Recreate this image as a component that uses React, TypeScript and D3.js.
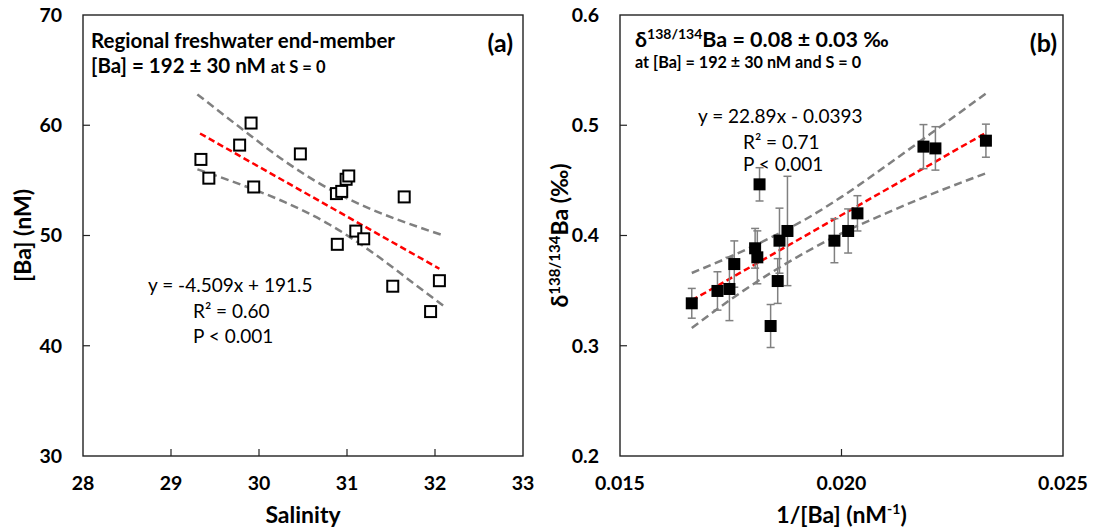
import React from 'react';
import * as d3 from 'd3';

// panel (a): salinity vs [Ba]
const salinity = [29.34, 29.43, 29.78, 29.91, 29.94, 30.47, 30.88, 30.94, 30.99, 31.02, 30.89, 31.1, 31.19, 31.65, 31.52, 32.05, 31.95];
const baConc = [56.9, 55.2, 58.2, 60.2, 54.4, 57.4, 53.8, 54.0, 55.1, 55.4, 49.2, 50.4, 49.7, 53.5, 45.4, 45.9, 43.1];
const fitA = { slope: -4.509, intercept: 191.5, from: 29.33, to: 32.05 };
const bandAX = [29.3, 29.8, 30.3, 30.8, 31.3, 31.8, 32.1];
const bandAUpper = [62.8, 59.7, 56.7, 54.2, 52.3, 50.8, 50.0];
const bandALower = [56.0, 54.6, 53.0, 51.0, 48.4, 45.4, 43.6];

// panel (b): 1/[Ba] vs d138/134Ba
const invBa = [0.01662, 0.0172, 0.01747, 0.01758, 0.01805, 0.0181, 0.01815, 0.0184, 0.01856, 0.0186, 0.01878, 0.01984, 0.02015, 0.02036, 0.02185, 0.02212, 0.02326];
const delta = [0.3385, 0.3497, 0.3515, 0.3741, 0.3884, 0.3802, 0.4464, 0.3179, 0.3587, 0.3953, 0.4041, 0.3953, 0.4041, 0.4201, 0.4806, 0.479, 0.486];
const deltaErr = [0.0135, 0.0174, 0.0287, 0.021, 0.018, 0.024, 0.0151, 0.0195, 0.0203, 0.0295, 0.0496, 0.02, 0.02, 0.016, 0.02, 0.0197, 0.015];
const fitB = { slope: 22.89, intercept: -0.0393, from: 0.01662, to: 0.02326 };
const bandBX = [0.01662, 0.0175, 0.0184, 0.0192, 0.02, 0.021, 0.022, 0.0233];
const bandBUpper = [0.366, 0.381, 0.398, 0.415, 0.435, 0.463, 0.492, 0.530];
const bandBLower = [0.316, 0.342, 0.366, 0.385, 0.402, 0.420, 0.437, 0.457];

const xTicksA = [28, 29, 30, 31, 32, 33];
const yTicksA = [30, 40, 50, 60, 70];
const xTicksB = [0.015, 0.02, 0.025];
const yTicksB = [0.2, 0.3, 0.4, 0.5, 0.6];

const W = 1094;
const H = 532;
const FONT = 'Lato, "Open Sans", sans-serif';
const frameA = { left: 83, right: 523, top: 15, bottom: 456 };
const frameB = { left: 620, right: 1063, top: 15, bottom: 456 };

const Axes = ({ f, x, y, xt, yt, fx, fy }: any) => (
  <g>
    <rect x={f.left} y={f.top} width={f.right - f.left} height={f.bottom - f.top} fill="none" stroke="#222" strokeWidth={1.4} />
    {xt.map((t: number) => (
      <g key={'x' + t}>
        {t > xt[0] && t < xt[xt.length - 1] && (
          <line x1={x(t)} x2={x(t)} y1={f.bottom} y2={f.bottom - 7} stroke="#222" strokeWidth={1.2} />
        )}
        <text x={x(t)} y={f.bottom + 34} textAnchor="middle" fontSize={19.5} fontWeight="bold">{fx(t)}</text>
      </g>
    ))}
    {yt.map((t: number) => (
      <g key={'y' + t}>
        {t > yt[0] && t < yt[yt.length - 1] && (
          <line x1={f.left} x2={f.left + 7} y1={y(t)} y2={y(t)} stroke="#222" strokeWidth={1.2} />
        )}
        <text x={f.left - 21} y={y(t)} dy="0.35em" textAnchor="end" fontSize={19.5} fontWeight="bold">{fy(t)}</text>
      </g>
    ))}
  </g>
);

export default function App() {
  const xA = d3.scaleLinear().domain([28, 33]).range([frameA.left, frameA.right]);
  const yA = d3.scaleLinear().domain([30, 70]).range([frameA.bottom, frameA.top]);
  const xB = d3.scaleLinear().domain([0.015, 0.025]).range([frameB.left, frameB.right]);
  const yB = d3.scaleLinear().domain([0.2, 0.6]).range([frameB.bottom, frameB.top]);

  const bandLine = (x: any, y: any) =>
    d3.line<[number, number]>().x(d => x(d[0])).y(d => y(d[1])).curve(d3.curveMonotoneX);

  const fitPath = (fit: any, x: any, y: any) =>
    d3.line<number>().x(d => x(d)).y(d => y(fit.slope * d + fit.intercept))([fit.from, fit.to]) || '';

  const bandA = bandLine(xA, yA);
  const bandB = bandLine(xB, yB);
  const zipA = (ys: number[]) => bandAX.map((v, i) => [v, ys[i]] as [number, number]);
  const zipB = (ys: number[]) => bandBX.map((v, i) => [v, ys[i]] as [number, number]);

  const gray = { fill: 'none', stroke: '#808080', strokeWidth: 2.5, strokeDasharray: '8 4.5' };
  const red = { fill: 'none', stroke: '#ff0000', strokeWidth: 2.5, strokeDasharray: '6.5 3.5' };
  const sq = 11;

  return (
    <svg width={W} height={H} style={{ position: 'absolute', left: 0, top: 0, background: '#fff' }} fontFamily={FONT}>
      {/* panel (a) */}
      <Axes f={frameA} x={xA} y={yA} xt={xTicksA} yt={yTicksA} fx={(t: number) => String(t)} fy={(t: number) => String(t)} />
      <path d={bandA(zipA(bandAUpper)) || ''} {...gray} />
      <path d={bandA(zipA(bandALower)) || ''} {...gray} />
      <path d={fitPath(fitA, xA, yA)} {...red} />
      {salinity.map((s, i) => (
        <rect key={i} x={xA(s) - sq / 2} y={yA(baConc[i]) - sq / 2} width={sq} height={sq} fill="#fff" stroke="#000" strokeWidth={2} />
      ))}
      <text x={91} y={48} fontSize={20.5} fontWeight="bold">Regional freshwater end-member</text>
      <text x={91} y={73} fontSize={20.5} fontWeight="bold">[Ba] = 192 ± 30 nM <tspan fontSize={16.5}>at S = 0</tspan></text>
      <text x={513} y={52} textAnchor="end" fontSize={25} fontWeight="bold">(a)</text>
      <text x={148} y={292} fontSize={19}>y = -4.509x + 191.5</text>
      <text x={193} y={318} fontSize={19}>R² = 0.60</text>
      <text x={193} y={343} fontSize={19}>P &lt; 0.001</text>
      <text x={(frameA.left + frameA.right) / 2} y={523} textAnchor="middle" fontSize={23} fontWeight="bold">Salinity</text>
      <text transform={`translate(31,${(frameA.top + frameA.bottom) / 2}) rotate(-90)`} textAnchor="middle" fontSize={23} fontWeight="bold">[Ba] (nM)</text>

      {/* panel (b) */}
      <Axes f={frameB} x={xB} y={yB} xt={xTicksB} yt={yTicksB} fx={d3.format('.3f')} fy={d3.format('.1f')} />
      <path d={bandB(zipB(bandBUpper)) || ''} {...gray} />
      <path d={bandB(zipB(bandBLower)) || ''} {...gray} />
      <path d={fitPath(fitB, xB, yB)} {...red} />
      {invBa.map((v, i) => {
        const cx = xB(v);
        const lo = yB(delta[i] - deltaErr[i]);
        const hi = yB(delta[i] + deltaErr[i]);
        return (
          <g key={i} stroke="#808080" strokeWidth={1.5}>
            <line x1={cx} x2={cx} y1={lo} y2={hi} />
            <line x1={cx - 4} x2={cx + 4} y1={lo} y2={lo} />
            <line x1={cx - 4} x2={cx + 4} y1={hi} y2={hi} />
          </g>
        );
      })}
      {invBa.map((v, i) => (
        <rect key={i} x={xB(v) - 6} y={yB(delta[i]) - 6} width={12} height={12} fill="#000" />
      ))}
      <text x={635} y={47} fontSize={21.5} fontWeight="bold">
        δ<tspan fontSize={14} dy={-8}>138/134</tspan><tspan dy={8}>Ba = 0.08 ± 0.03 ‰</tspan>
      </text>
      <text x={635} y={68} fontSize={16.2} fontWeight="bold">at [Ba] = 192 ± 30 nM and S = 0</text>
      <text x={1057} y={52} textAnchor="end" fontSize={25} fontWeight="bold">(b)</text>
      <text x={698} y={123} fontSize={19}>y = 22.89x - 0.0393</text>
      <text x={743} y={149} fontSize={19}>R² = 0.71</text>
      <text x={743} y={171} fontSize={19}>P &lt; 0.001</text>
      <text x={(frameB.left + frameB.right) / 2} y={523} textAnchor="middle" fontSize={23} fontWeight="bold">
        1/[Ba] (nM<tspan fontSize={14} dy={-9}>-1</tspan><tspan dy={9}>)</tspan>
      </text>
      <text transform={`translate(568,${(frameB.top + frameB.bottom) / 2}) rotate(-90)`} textAnchor="middle" fontSize={23} fontWeight="bold">
        δ<tspan fontSize={15} dy={-8}>138/134</tspan><tspan dy={8}>Ba (‰)</tspan>
      </text>
    </svg>
  );
}
